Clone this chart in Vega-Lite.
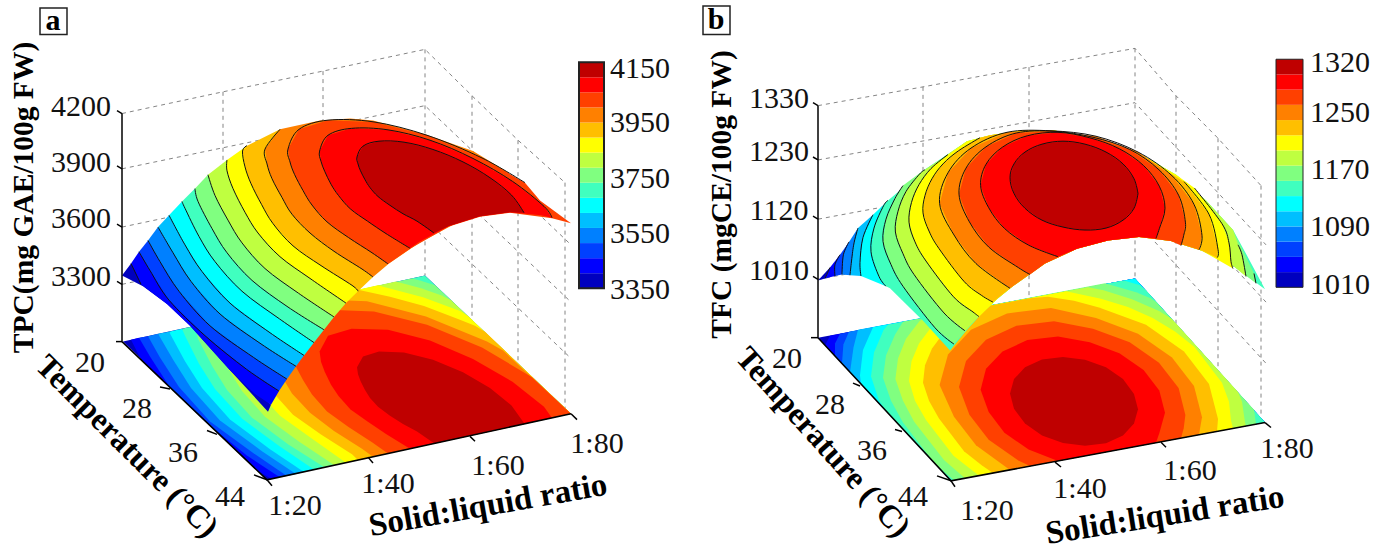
{"$schema":"https://vega.github.io/schema/vega-lite/v6.json","autosize":{"type":"fit","contains":"padding"},"width":1383,"height":551,"padding":0,"background":"white","config":{"view":{"stroke":null}},
"datasets":{
"g":[{"s":"a0","x":122,"y":115},{"s":"a0","x":223,"y":93},{"s":"a0","x":323,"y":72},{"s":"a0","x":425,"y":50},{"s":"a0","x":472,"y":97},{"s":"a0","x":518,"y":142},{"s":"a0","x":565,"y":185},
{"s":"a1","x":122,"y":171},{"s":"a1","x":425,"y":107},{"s":"a1","x":570,"y":247},{"s":"a2","x":122,"y":230},{"s":"a2","x":425,"y":165},{"s":"a2","x":570,"y":305},{"s":"a3","x":122,"y":288},{"s":"a3","x":425,"y":222},{"s":"a3","x":570,"y":362},
{"s":"a4","x":223,"y":93},{"s":"a4","x":223,"y":324},{"s":"a5","x":323,"y":72},{"s":"a5","x":323,"y":302},{"s":"a6","x":425,"y":50},{"s":"a6","x":425,"y":279},{"s":"a7","x":472,"y":97},{"s":"a7","x":472,"y":324},{"s":"a8","x":518,"y":142},{"s":"a8","x":518,"y":368},{"s":"a9","x":565,"y":185},{"s":"a9","x":565,"y":418},
{"s":"b0","x":818,"y":107},{"s":"b0","x":923,"y":88},{"s":"b0","x":1029,"y":68},{"s":"b0","x":1135,"y":49},{"s":"b0","x":1176,"y":97},{"s":"b0","x":1218,"y":140},{"s":"b0","x":1261,"y":188},
{"s":"b1","x":818,"y":162},{"s":"b1","x":1135,"y":104},{"s":"b1","x":1266,"y":248},{"s":"b2","x":818,"y":222},{"s":"b2","x":1135,"y":162},{"s":"b2","x":1266,"y":306},{"s":"b3","x":818,"y":283},{"s":"b3","x":1135,"y":223},{"s":"b3","x":1266,"y":368},
{"s":"b4","x":923,"y":88},{"s":"b4","x":923,"y":322},{"s":"b5","x":1029,"y":68},{"s":"b5","x":1029,"y":302},{"s":"b6","x":1135,"y":49},{"s":"b6","x":1135,"y":282},{"s":"b7","x":1176,"y":97},{"s":"b7","x":1176,"y":328},{"s":"b8","x":1218,"y":140},{"s":"b8","x":1218,"y":375},{"s":"b9","x":1261,"y":188},{"s":"b9","x":1261,"y":423}],
"p":[
{"s":"aF0","v":0,"x":123,"y":346},{"s":"aF0","v":0,"x":425,"y":279},{"s":"aF0","v":0,"x":571,"y":419},{"s":"aF0","v":0,"x":267,"y":486},
{"s":"aF1","v":1,"x":131,"y":344},{"s":"aF1","v":1,"x":141,"y":364},{"s":"aF1","v":1,"x":255,"y":475},{"s":"aF1","v":1,"x":271,"y":485},{"s":"aF1","v":1,"x":279,"y":483},{"s":"aF1","v":1,"x":139,"y":342},
{"s":"aF2","v":2,"x":139,"y":342},{"s":"aF2","v":2,"x":150,"y":361},{"s":"aF2","v":2,"x":169,"y":391},{"s":"aF2","v":2,"x":205,"y":427},{"s":"aF2","v":2,"x":246.5,"y":461},{"s":"aF2","v":2,"x":279,"y":483},{"s":"aF2","v":2,"x":287,"y":482},{"s":"aF2","v":2,"x":148,"y":340.5},
{"s":"aF3","v":3,"x":148,"y":340.5},{"s":"aF3","v":3,"x":160,"y":362},{"s":"aF3","v":3,"x":179,"y":392},{"s":"aF3","v":3,"x":210,"y":427},{"s":"aF3","v":3,"x":253.5,"y":459},{"s":"aF3","v":3,"x":287,"y":482},{"s":"aF3","v":3,"x":296,"y":480},{"s":"aF3","v":3,"x":158,"y":338},
{"s":"aF4","v":4,"x":158,"y":338},{"s":"aF4","v":4,"x":173,"y":364},{"s":"aF4","v":4,"x":191,"y":393},{"s":"aF4","v":4,"x":220,"y":426},{"s":"aF4","v":4,"x":262,"y":457},{"s":"aF4","v":4,"x":296,"y":480},{"s":"aF4","v":4,"x":304,"y":478},{"s":"aF4","v":4,"x":169,"y":336},
{"s":"aF5","v":5,"x":169,"y":336},{"s":"aF5","v":5,"x":185,"y":366},{"s":"aF5","v":5,"x":202,"y":393},{"s":"aF5","v":5,"x":230,"y":425},{"s":"aF5","v":5,"x":270,"y":455},{"s":"aF5","v":5,"x":304,"y":478},{"s":"aF5","v":5,"x":314,"y":475.6},{"s":"aF5","v":5,"x":182,"y":333},
{"s":"aF6","v":6,"x":182,"y":333},{"s":"aF6","v":6,"x":185,"y":340},{"s":"aF6","v":6,"x":199,"y":368.5},{"s":"aF6","v":6,"x":215,"y":394},{"s":"aF6","v":6,"x":242,"y":424},{"s":"aF6","v":6,"x":279.5,"y":452},{"s":"aF6","v":6,"x":314,"y":475.6},{"s":"aF6","v":6,"x":571,"y":419},{"s":"aF6","v":6,"x":425,"y":279},
{"s":"aF7","v":7,"x":195,"y":330},{"s":"aF7","v":7,"x":412,"y":282},{"s":"aF7","v":7,"x":420,"y":284},{"s":"aF7","v":7,"x":435,"y":289},{"s":"aF7","v":7,"x":571,"y":419},{"s":"aF7","v":7,"x":324,"y":473},{"s":"aF7","v":7,"x":288,"y":450},{"s":"aF7","v":7,"x":252,"y":423},{"s":"aF7","v":7,"x":227,"y":395},{"s":"aF7","v":7,"x":212,"y":370.5},{"s":"aF7","v":7,"x":198,"y":343},
{"s":"aF8","v":8,"x":208,"y":327},{"s":"aF8","v":8,"x":396,"y":285},{"s":"aF8","v":8,"x":421,"y":292},{"s":"aF8","v":8,"x":441,"y":299},{"s":"aF8","v":8,"x":451,"y":304},{"s":"aF8","v":8,"x":571,"y":419},{"s":"aF8","v":8,"x":334,"y":471},{"s":"aF8","v":8,"x":298.5,"y":447},{"s":"aF8","v":8,"x":265,"y":422},{"s":"aF8","v":8,"x":242,"y":396},{"s":"aF8","v":8,"x":228,"y":373},{"s":"aF8","v":8,"x":215,"y":348},
{"s":"aF9","v":9,"x":227,"y":323},{"s":"aF9","v":9,"x":378,"y":289},{"s":"aF9","v":9,"x":385,"y":291},{"s":"aF9","v":9,"x":423,"y":301},{"s":"aF9","v":9,"x":460,"y":315},{"s":"aF9","v":9,"x":468,"y":320},{"s":"aF9","v":9,"x":571,"y":419},{"s":"aF9","v":9,"x":346,"y":468.6},{"s":"aF9","v":9,"x":310,"y":443},{"s":"aF9","v":9,"x":280,"y":421},{"s":"aF9","v":9,"x":258,"y":397},{"s":"aF9","v":9,"x":245,"y":376},{"s":"aF9","v":9,"x":233,"y":352},{"s":"aF9","v":9,"x":227,"y":334},
{"s":"aF10","v":10,"x":247,"y":318.5},{"s":"aF10","v":10,"x":358,"y":293.5},{"s":"aF10","v":10,"x":390,"y":300.5},{"s":"aF10","v":10,"x":424,"y":310},{"s":"aF10","v":10,"x":458,"y":323},{"s":"aF10","v":10,"x":475,"y":330},{"s":"aF10","v":10,"x":485,"y":336},{"s":"aF10","v":10,"x":571,"y":419},{"s":"aF10","v":10,"x":358,"y":466},{"s":"aF10","v":10,"x":352,"y":460},{"s":"aF10","v":10,"x":321,"y":440},{"s":"aF10","v":10,"x":293,"y":420},{"s":"aF10","v":10,"x":273,"y":397.5},{"s":"aF10","v":10,"x":261.5,"y":378},{"s":"aF10","v":10,"x":251,"y":357},{"s":"aF10","v":10,"x":245,"y":340},{"s":"aF10","v":10,"x":242.5,"y":324},
{"s":"aF11","v":11,"x":280,"y":311},{"s":"aF11","v":11,"x":316,"y":303},{"s":"aF11","v":11,"x":367,"y":305},{"s":"aF11","v":11,"x":426,"y":320.5},{"s":"aF11","v":11,"x":487,"y":346},{"s":"aF11","v":11,"x":503,"y":355},{"s":"aF11","v":11,"x":571,"y":419},{"s":"aF11","v":11,"x":373,"y":462.6},{"s":"aF11","v":11,"x":362,"y":454.5},{"s":"aF11","v":11,"x":334,"y":436.5},{"s":"aF11","v":11,"x":310,"y":418},{"s":"aF11","v":11,"x":292,"y":398.6},{"s":"aF11","v":11,"x":282,"y":381.7},{"s":"aF11","v":11,"x":272,"y":362.7},{"s":"aF11","v":11,"x":267,"y":348},{"s":"aF11","v":11,"x":265,"y":333},
{"s":"aF12","v":12,"x":299,"y":323},{"s":"aF12","v":12,"x":328,"y":313.7},{"s":"aF12","v":12,"x":374,"y":315.5},{"s":"aF12","v":12,"x":427,"y":329},{"s":"aF12","v":12,"x":482,"y":352},{"s":"aF12","v":12,"x":532,"y":382},{"s":"aF12","v":12,"x":571,"y":419},{"s":"aF12","v":12,"x":388,"y":459.3},{"s":"aF12","v":12,"x":372,"y":448},{"s":"aF12","v":12,"x":348.5,"y":432.6},{"s":"aF12","v":12,"x":327,"y":416.7},{"s":"aF12","v":12,"x":312,"y":399.7},{"s":"aF12","v":12,"x":303,"y":385},{"s":"aF12","v":12,"x":294.5,"y":368.6},{"s":"aF12","v":12,"x":290,"y":356},{"s":"aF12","v":12,"x":288,"y":343},
{"s":"aF13","v":13,"x":319.6,"y":356},{"s":"aF13","v":13,"x":328,"y":340},{"s":"aF13","v":13,"x":351.5,"y":333},{"s":"aF13","v":13,"x":388,"y":334},{"s":"aF13","v":13,"x":430,"y":345},{"s":"aF13","v":13,"x":473,"y":363.5},{"s":"aF13","v":13,"x":512.5,"y":386.7},{"s":"aF13","v":13,"x":544,"y":412},{"s":"aF13","v":13,"x":552,"y":423.5},{"s":"aF13","v":13,"x":410,"y":454.5},{"s":"aF13","v":13,"x":386,"y":439.6},{"s":"aF13","v":13,"x":367.5,"y":427},{"s":"aF13","v":13,"x":350.5,"y":414.7},{"s":"aF13","v":13,"x":338.5,"y":401},{"s":"aF13","v":13,"x":331,"y":389.6},{"s":"aF13","v":13,"x":324.7,"y":376.5},{"s":"aF13","v":13,"x":321,"y":366.4},
{"s":"aF14","v":14,"x":357,"y":372},{"s":"aF14","v":14,"x":363,"y":361},{"s":"aF14","v":14,"x":379,"y":356},{"s":"aF14","v":14,"x":404,"y":357},{"s":"aF14","v":14,"x":433,"y":364.4},{"s":"aF14","v":14,"x":463,"y":377},{"s":"aF14","v":14,"x":490,"y":393},{"s":"aF14","v":14,"x":511.5,"y":410.6},{"s":"aF14","v":14,"x":524,"y":428.5},{"s":"aF14","v":14,"x":434,"y":449},{"s":"aF14","v":14,"x":417,"y":437},{"s":"aF14","v":14,"x":403,"y":429.5},{"s":"aF14","v":14,"x":390,"y":421},{"s":"aF14","v":14,"x":378,"y":412},{"s":"aF14","v":14,"x":370,"y":403},{"s":"aF14","v":14,"x":365,"y":395},{"s":"aF14","v":14,"x":360.5,"y":386},{"s":"aF14","v":14,"x":358,"y":379},
{"s":"aS0","v":0,"x":122,"y":279},{"s":"aS0","v":0,"x":131,"y":267},{"s":"aS0","v":0,"x":271,"y":410},{"s":"aS0","v":0,"x":268,"y":417},{"s":"aS0","v":0,"x":230,"y":375},{"s":"aS0","v":0,"x":190,"y":330},{"s":"aS0","v":0,"x":167,"y":308},{"s":"aS0","v":0,"x":143,"y":290},
{"s":"aS1","v":1,"c":1,"x":131,"y":267},{"s":"aS1","v":1,"c":1,"x":141,"y":288},{"s":"aS1","v":1,"x":167,"y":308},{"s":"aS1","v":1,"x":190,"y":330},{"s":"aS1","v":1,"x":230,"y":375},{"s":"aS1","v":1,"x":255,"y":399},{"s":"aS1","v":1,"x":271,"y":410},{"s":"aS1","v":1,"x":279,"y":396},{"s":"aS1","v":1,"x":139,"y":255},
{"s":"aS2","v":2,"c":1,"x":139,"y":255},{"s":"aS2","v":2,"c":1,"x":150,"y":274},{"s":"aS2","v":2,"c":1,"x":169,"y":304},{"s":"aS2","v":2,"c":1,"x":205,"y":340},{"s":"aS2","v":2,"c":1,"x":246.5,"y":374},{"s":"aS2","v":2,"c":1,"x":279,"y":396},{"s":"aS2","v":2,"x":287,"y":384},{"s":"aS2","v":2,"x":148,"y":243.5},
{"s":"aS3","v":3,"c":1,"x":148,"y":243.5},{"s":"aS3","v":3,"c":1,"x":160,"y":265},{"s":"aS3","v":3,"c":1,"x":179,"y":295},{"s":"aS3","v":3,"c":1,"x":210,"y":330},{"s":"aS3","v":3,"c":1,"x":253.5,"y":362},{"s":"aS3","v":3,"c":1,"x":287,"y":384},{"s":"aS3","v":3,"x":296,"y":371},{"s":"aS3","v":3,"x":158,"y":230},
{"s":"aS4","v":4,"c":1,"x":158,"y":230},{"s":"aS4","v":4,"c":1,"x":173,"y":256},{"s":"aS4","v":4,"c":1,"x":191,"y":285},{"s":"aS4","v":4,"c":1,"x":220,"y":318},{"s":"aS4","v":4,"c":1,"x":262,"y":349},{"s":"aS4","v":4,"c":1,"x":296,"y":371},{"s":"aS4","v":4,"x":304,"y":360},{"s":"aS4","v":4,"x":169,"y":218},
{"s":"aS5","v":5,"c":1,"x":169,"y":218},{"s":"aS5","v":5,"c":1,"x":185,"y":248},{"s":"aS5","v":5,"c":1,"x":202,"y":275},{"s":"aS5","v":5,"c":1,"x":230,"y":307},{"s":"aS5","v":5,"c":1,"x":270,"y":337},{"s":"aS5","v":5,"c":1,"x":304,"y":360},{"s":"aS5","v":5,"x":314,"y":347},{"s":"aS5","v":5,"x":182,"y":204},
{"s":"aS6","v":6,"c":1,"x":182,"y":204},{"s":"aS6","v":6,"c":1,"x":185,"y":211},{"s":"aS6","v":6,"c":1,"x":199,"y":239.5},{"s":"aS6","v":6,"c":1,"x":215,"y":265},{"s":"aS6","v":6,"c":1,"x":242,"y":295},{"s":"aS6","v":6,"c":1,"x":279.5,"y":323},{"s":"aS6","v":6,"c":1,"x":314,"y":347},{"s":"aS6","v":6,"x":324,"y":334},{"s":"aS6","v":6,"x":195,"y":191},
{"s":"aS7","v":7,"c":1,"x":195,"y":191},{"s":"aS7","v":7,"c":1,"x":198,"y":204},{"s":"aS7","v":7,"c":1,"x":212,"y":231.5},{"s":"aS7","v":7,"c":1,"x":227,"y":256},{"s":"aS7","v":7,"c":1,"x":252,"y":284},{"s":"aS7","v":7,"c":1,"x":288,"y":311},{"s":"aS7","v":7,"c":1,"x":324,"y":334},{"s":"aS7","v":7,"x":334,"y":321},{"s":"aS7","v":7,"x":208,"y":177},
{"s":"aS8","v":8,"c":1,"x":208,"y":177},{"s":"aS8","v":8,"c":1,"x":215,"y":198},{"s":"aS8","v":8,"c":1,"x":228,"y":223},{"s":"aS8","v":8,"c":1,"x":242,"y":246},{"s":"aS8","v":8,"c":1,"x":265,"y":272},{"s":"aS8","v":8,"c":1,"x":298.5,"y":297},{"s":"aS8","v":8,"c":1,"x":334,"y":321},{"s":"aS8","v":8,"x":346,"y":307},{"s":"aS8","v":8,"x":227,"y":162},
{"s":"aS9","v":9,"c":1,"x":227,"y":162},{"s":"aS9","v":9,"c":1,"x":227,"y":173},{"s":"aS9","v":9,"c":1,"x":233,"y":191},{"s":"aS9","v":9,"c":1,"x":245,"y":215},{"s":"aS9","v":9,"c":1,"x":258,"y":236},{"s":"aS9","v":9,"c":1,"x":280,"y":260},{"s":"aS9","v":9,"c":1,"x":310,"y":282},{"s":"aS9","v":9,"c":1,"x":346,"y":307},{"s":"aS9","v":9,"x":358,"y":295},{"s":"aS9","v":9,"x":247,"y":147.5},
{"s":"aS10","v":10,"c":1,"x":247,"y":147.5},{"s":"aS10","v":10,"c":1,"x":242.5,"y":153},{"s":"aS10","v":10,"c":1,"x":245,"y":169},{"s":"aS10","v":10,"c":1,"x":251,"y":186},{"s":"aS10","v":10,"c":1,"x":261.5,"y":207},{"s":"aS10","v":10,"c":1,"x":273,"y":226.5},{"s":"aS10","v":10,"c":1,"x":293,"y":249},{"s":"aS10","v":10,"c":1,"x":321,"y":269},{"s":"aS10","v":10,"c":1,"x":352,"y":289},{"s":"aS10","v":10,"c":1,"x":358,"y":295},{"s":"aS10","v":10,"x":373,"y":280.6},{"s":"aS10","v":10,"x":280,"y":131},
{"s":"aS11","v":11,"c":1,"x":280,"y":131},{"s":"aS11","v":11,"c":1,"x":265,"y":151},{"s":"aS11","v":11,"c":1,"x":267,"y":166},{"s":"aS11","v":11,"c":1,"x":272,"y":181},{"s":"aS11","v":11,"c":1,"x":282,"y":200},{"s":"aS11","v":11,"c":1,"x":292,"y":217},{"s":"aS11","v":11,"c":1,"x":310,"y":236},{"s":"aS11","v":11,"c":1,"x":334,"y":254.5},{"s":"aS11","v":11,"c":1,"x":362,"y":272.5},{"s":"aS11","v":11,"c":1,"x":373,"y":280.6},{"s":"aS11","v":11,"x":389,"y":267},{"s":"aS11","v":11,"x":419,"y":246},{"s":"aS11","v":11,"x":449,"y":230},{"s":"aS11","v":11,"x":525,"y":190},{"s":"aS11","v":11,"x":507,"y":174},{"s":"aS11","v":11,"x":473,"y":153},{"s":"aS11","v":11,"x":425,"y":136},{"s":"aS11","v":11,"x":373,"y":122},{"s":"aS11","v":11,"x":350,"y":120},{"s":"aS11","v":11,"x":320,"y":122},
{"s":"aS12","v":12,"c":1,"x":525,"y":185},{"s":"aS12","v":12,"c":1,"x":482,"y":160},{"s":"aS12","v":12,"c":1,"x":427,"y":137},{"s":"aS12","v":12,"c":1,"x":374,"y":123.5},{"s":"aS12","v":12,"c":1,"x":328,"y":121.7},{"s":"aS12","v":12,"c":1,"x":299,"y":131},{"s":"aS12","v":12,"c":1,"x":288,"y":151},{"s":"aS12","v":12,"c":1,"x":290,"y":164},{"s":"aS12","v":12,"c":1,"x":294.5,"y":176.6},{"s":"aS12","v":12,"c":1,"x":303,"y":193},{"s":"aS12","v":12,"c":1,"x":312,"y":207.7},{"s":"aS12","v":12,"c":1,"x":327,"y":224.7},{"s":"aS12","v":12,"c":1,"x":348.5,"y":240.6},{"s":"aS12","v":12,"c":1,"x":372,"y":256},{"s":"aS12","v":12,"c":1,"x":388,"y":267.3},{"s":"aS12","v":12,"x":410,"y":252},{"s":"aS12","v":12,"x":449,"y":229.5},{"s":"aS12","v":12,"x":480,"y":219.5},{"s":"aS12","v":12,"x":510,"y":215.5},{"s":"aS12","v":12,"x":552,"y":221},{"s":"aS12","v":12,"x":571,"y":226},{"s":"aS12","v":12,"x":540,"y":203},
{"s":"aS13","v":13,"c":1,"x":552,"y":220.5},{"s":"aS13","v":13,"c":1,"x":544,"y":209},{"s":"aS13","v":13,"c":1,"x":512.5,"y":183.7},{"s":"aS13","v":13,"c":1,"x":473,"y":160.5},{"s":"aS13","v":13,"c":1,"x":430,"y":142},{"s":"aS13","v":13,"c":1,"x":388,"y":131.5},{"s":"aS13","v":13,"c":1,"x":351.5,"y":130},{"s":"aS13","v":13,"c":1,"x":328,"y":137},{"s":"aS13","v":13,"c":1,"x":319.6,"y":153},{"s":"aS13","v":13,"c":1,"x":321,"y":163.4},{"s":"aS13","v":13,"c":1,"x":324.7,"y":173.5},{"s":"aS13","v":13,"c":1,"x":331,"y":186.6},{"s":"aS13","v":13,"c":1,"x":338.5,"y":198},{"s":"aS13","v":13,"c":1,"x":350.5,"y":211.7},{"s":"aS13","v":13,"c":1,"x":367.5,"y":224},{"s":"aS13","v":13,"c":1,"x":386,"y":236.6},{"s":"aS13","v":13,"c":1,"x":410,"y":251.5},{"s":"aS13","v":13,"x":419,"y":245},{"s":"aS13","v":13,"x":449,"y":229},{"s":"aS13","v":13,"x":480,"y":219},{"s":"aS13","v":13,"x":510,"y":215},{"s":"aS13","v":13,"x":541,"y":218},
{"s":"aS14","v":14,"c":1,"x":524,"y":215.5},{"s":"aS14","v":14,"c":1,"x":511.5,"y":197.6},{"s":"aS14","v":14,"c":1,"x":490,"y":180},{"s":"aS14","v":14,"c":1,"x":463,"y":164},{"s":"aS14","v":14,"c":1,"x":433,"y":151.4},{"s":"aS14","v":14,"c":1,"x":404,"y":144},{"s":"aS14","v":14,"c":1,"x":379,"y":143},{"s":"aS14","v":14,"c":1,"x":363,"y":148},{"s":"aS14","v":14,"c":1,"x":357,"y":159},{"s":"aS14","v":14,"c":1,"x":358,"y":166},{"s":"aS14","v":14,"c":1,"x":360.5,"y":173},{"s":"aS14","v":14,"c":1,"x":365,"y":182},{"s":"aS14","v":14,"c":1,"x":370,"y":190},{"s":"aS14","v":14,"c":1,"x":378,"y":199},{"s":"aS14","v":14,"c":1,"x":390,"y":208},{"s":"aS14","v":14,"c":1,"x":403,"y":216.5},{"s":"aS14","v":14,"c":1,"x":417,"y":224},{"s":"aS14","v":14,"c":1,"x":434,"y":236},{"s":"aS14","v":14,"x":449,"y":229},{"s":"aS14","v":14,"x":480,"y":219},{"s":"aS14","v":14,"x":510,"y":215},
{"s":"bF0","v":0,"x":818,"y":342},{"s":"bF0","v":0,"x":1135,"y":282},{"s":"bF0","v":0,"x":1265,"y":428},{"s":"bF0","v":0,"x":951,"y":487},
{"s":"bF1","v":1,"x":830,"y":340},{"s":"bF1","v":1,"x":1135,"y":282},{"s":"bF1","v":1,"x":1265,"y":428},{"s":"bF1","v":1,"x":951,"y":487},{"s":"bF1","v":1,"x":825,"y":350},
{"s":"bF2","v":2,"x":840,"y":338},{"s":"bF2","v":2,"x":1135,"y":282},{"s":"bF2","v":2,"x":1265,"y":428},{"s":"bF2","v":2,"x":951,"y":487},{"s":"bF2","v":2,"x":835,"y":360.5},{"s":"bF2","v":2,"x":835,"y":348},
{"s":"bF3","v":3,"x":849,"y":336},{"s":"bF3","v":3,"x":1135,"y":282},{"s":"bF3","v":3,"x":1265,"y":428},{"s":"bF3","v":3,"x":951,"y":487},{"s":"bF3","v":3,"x":842,"y":368},{"s":"bF3","v":3,"x":843.4,"y":349},
{"s":"bF4","v":4,"x":858,"y":334},{"s":"bF4","v":4,"x":1135,"y":282},{"s":"bF4","v":4,"x":1265,"y":428},{"s":"bF4","v":4,"x":951,"y":487},{"s":"bF4","v":4,"x":850,"y":377},{"s":"bF4","v":4,"x":853.5,"y":352},
{"s":"bF5","v":5,"x":873,"y":331.5},{"s":"bF5","v":5,"x":1135,"y":282},{"s":"bF5","v":5,"x":1265,"y":428},{"s":"bF5","v":5,"x":951,"y":487},{"s":"bF5","v":5,"x":861,"y":389},{"s":"bF5","v":5,"x":860,"y":380},{"s":"bF5","v":5,"x":863,"y":354.5},
{"s":"bF6","v":6,"x":888,"y":329},{"s":"bF6","v":6,"x":1124,"y":284},{"s":"bF6","v":6,"x":1140,"y":289},{"s":"bF6","v":6,"x":1146,"y":294},{"s":"bF6","v":6,"x":1265,"y":428},{"s":"bF6","v":6,"x":951,"y":487},{"s":"bF6","v":6,"x":886,"y":416},{"s":"bF6","v":6,"x":879,"y":406},{"s":"bF6","v":6,"x":871,"y":381},{"s":"bF6","v":6,"x":874,"y":357},{"s":"bF6","v":6,"x":883.5,"y":334.5},
{"s":"bF7","v":7,"x":903,"y":326},{"s":"bF7","v":7,"x":1105,"y":287},{"s":"bF7","v":7,"x":1136,"y":296},{"s":"bF7","v":7,"x":1150.7,"y":302},{"s":"bF7","v":7,"x":1156,"y":306},{"s":"bF7","v":7,"x":1254,"y":415},{"s":"bF7","v":7,"x":1256,"y":429.5},{"s":"bF7","v":7,"x":954,"y":486.5},{"s":"bF7","v":7,"x":935,"y":470},{"s":"bF7","v":7,"x":903,"y":428},{"s":"bF7","v":7,"x":891,"y":406},{"s":"bF7","v":7,"x":883,"y":382.5},{"s":"bF7","v":7,"x":886,"y":360},{"s":"bF7","v":7,"x":895,"y":339},
{"s":"bF8","v":8,"x":925,"y":322},{"s":"bF8","v":8,"x":1088,"y":291},{"s":"bF8","v":8,"x":1103.5,"y":294},{"s":"bF8","v":8,"x":1132,"y":303},{"s":"bF8","v":8,"x":1159,"y":315},{"s":"bF8","v":8,"x":1172,"y":323},{"s":"bF8","v":8,"x":1238,"y":397},{"s":"bF8","v":8,"x":1242,"y":407},{"s":"bF8","v":8,"x":1245,"y":428},{"s":"bF8","v":8,"x":1246,"y":431.5},{"s":"bF8","v":8,"x":965,"y":484.4},{"s":"bF8","v":8,"x":944,"y":466},{"s":"bF8","v":8,"x":914,"y":427},{"s":"bF8","v":8,"x":903,"y":406},{"s":"bF8","v":8,"x":895.4,"y":384},{"s":"bF8","v":8,"x":898,"y":363},{"s":"bF8","v":8,"x":906,"y":343},{"s":"bF8","v":8,"x":919.4,"y":325.5},
{"s":"bF9","v":9,"x":948,"y":317.5},{"s":"bF9","v":9,"x":1066,"y":295},{"s":"bF9","v":9,"x":1101,"y":302.7},{"s":"bF9","v":9,"x":1128,"y":311},{"s":"bF9","v":9,"x":1152.7,"y":322},{"s":"bF9","v":9,"x":1175,"y":335.7},{"s":"bF9","v":9,"x":1194.5,"y":351.5},{"s":"bF9","v":9,"x":1222,"y":387.6},{"s":"bF9","v":9,"x":1229,"y":407},{"s":"bF9","v":9,"x":1231,"y":426},{"s":"bF9","v":9,"x":1233,"y":434},{"s":"bF9","v":9,"x":979,"y":481.7},{"s":"bF9","v":9,"x":973,"y":477},{"s":"bF9","v":9,"x":953.5,"y":461.6},{"s":"bF9","v":9,"x":926,"y":425.4},{"s":"bF9","v":9,"x":915,"y":406},{"s":"bF9","v":9,"x":909,"y":386},{"s":"bF9","v":9,"x":911.5,"y":366},{"s":"bF9","v":9,"x":919,"y":348},{"s":"bF9","v":9,"x":931,"y":331.7},
{"s":"bF10","v":10,"x":980,"y":311.5},{"s":"bF10","v":10,"x":1030,"y":302},{"s":"bF10","v":10,"x":1048,"y":300.5},{"s":"bF10","v":10,"x":1074,"y":304.5},{"s":"bF10","v":10,"x":1099,"y":311.5},{"s":"bF10","v":10,"x":1146,"y":329},{"s":"bF10","v":10,"x":1184,"y":356},{"s":"bF10","v":10,"x":1209,"y":389},{"s":"bF10","v":10,"x":1218,"y":424.5},{"s":"bF10","v":10,"x":1217,"y":437},{"s":"bF10","v":10,"x":993,"y":479},{"s":"bF10","v":10,"x":981.7,"y":471.3},{"s":"bF10","v":10,"x":964,"y":457},{"s":"bF10","v":10,"x":939,"y":423.8},{"s":"bF10","v":10,"x":929,"y":406},{"s":"bF10","v":10,"x":923,"y":387.6},{"s":"bF10","v":10,"x":925,"y":370},{"s":"bF10","v":10,"x":932,"y":353},{"s":"bF10","v":10,"x":943,"y":338},{"s":"bF10","v":10,"x":958.4,"y":324.8},
{"s":"bF11","v":11,"x":1007,"y":317.5},{"s":"bF11","v":11,"x":1051,"y":312},{"s":"bF11","v":11,"x":1096,"y":322},{"s":"bF11","v":11,"x":1138,"y":338},{"s":"bF11","v":11,"x":1172,"y":362},{"s":"bF11","v":11,"x":1194,"y":391},{"s":"bF11","v":11,"x":1202,"y":422.5},{"s":"bF11","v":11,"x":1199,"y":440},{"s":"bF11","v":11,"x":1010,"y":476},{"s":"bF11","v":11,"x":976,"y":451},{"s":"bF11","v":11,"x":954,"y":422},{"s":"bF11","v":11,"x":939.6,"y":390},{"s":"bF11","v":11,"x":948,"y":359},{"s":"bF11","v":11,"x":971,"y":334},
{"s":"bF12","v":12,"x":1185.4,"y":420.4},{"s":"bF12","v":12,"x":1178.6,"y":393},{"s":"bF12","v":12,"x":1159,"y":367.5},{"s":"bF12","v":12,"x":1129.7,"y":346.6},{"s":"bF12","v":12,"x":1093,"y":333},{"s":"bF12","v":12,"x":1054,"y":325.5},{"s":"bF12","v":12,"x":1016.4,"y":330},{"s":"bF12","v":12,"x":986,"y":344},{"s":"bF12","v":12,"x":966,"y":365.6},{"s":"bF12","v":12,"x":959,"y":392},{"s":"bF12","v":12,"x":969.4,"y":420},{"s":"bF12","v":12,"x":988.7,"y":445.5},{"s":"bF12","v":12,"x":1018.3,"y":466.4},{"s":"bF12","v":12,"x":1030,"y":472},{"s":"bF12","v":12,"x":1181,"y":444},{"s":"bF12","v":12,"x":1183.7,"y":433.7},
{"s":"bF13","v":13,"x":1165,"y":418},{"s":"bF13","v":13,"x":1159.3,"y":395.6},{"s":"bF13","v":13,"x":1143.6,"y":374.7},{"s":"bF13","v":13,"x":1119.4,"y":357.7},{"s":"bF13","v":13,"x":1089.8,"y":346.6},{"s":"bF13","v":13,"x":1058,"y":340.8},{"s":"bF13","v":13,"x":1027.3,"y":344.5},{"s":"bF13","v":13,"x":1002.5,"y":356},{"s":"bF13","v":13,"x":986,"y":373.4},{"s":"bF13","v":13,"x":980.6,"y":394.8},{"s":"bF13","v":13,"x":988.7,"y":417.4},{"s":"bF13","v":13,"x":1004.4,"y":438.3},{"s":"bF13","v":13,"x":1028.6,"y":455.3},{"s":"bF13","v":13,"x":1058,"y":466.9},{"s":"bF13","v":13,"x":1156,"y":448.5},{"s":"bF13","v":13,"x":1159.3,"y":438.7},
{"s":"bF14","v":14,"x":1138,"y":414.5},{"s":"bF14","v":14,"x":1134,"y":429},{"s":"bF14","v":14,"x":1123,"y":441},{"s":"bF14","v":14,"x":1106,"y":449},{"s":"bF14","v":14,"x":1085,"y":451.5},{"s":"bF14","v":14,"x":1063,"y":448.7},{"s":"bF14","v":14,"x":1042,"y":441},{"s":"bF14","v":14,"x":1025,"y":429},{"s":"bF14","v":14,"x":1014,"y":414},{"s":"bF14","v":14,"x":1010,"y":398.5},{"s":"bF14","v":14,"x":1014,"y":384},{"s":"bF14","v":14,"x":1025,"y":372},{"s":"bF14","v":14,"x":1042,"y":364},{"s":"bF14","v":14,"x":1063,"y":361.5},{"s":"bF14","v":14,"x":1085,"y":364.3},{"s":"bF14","v":14,"x":1106,"y":372},{"s":"bF14","v":14,"x":1123,"y":384},{"s":"bF14","v":14,"x":1134,"y":399},
{"s":"bS0","v":0,"x":818,"y":284},{"s":"bS0","v":0,"x":830,"y":271},{"s":"bS0","v":0,"x":825,"y":282},
{"s":"bS1","v":1,"c":1,"x":830,"y":271},{"s":"bS1","v":1,"c":1,"x":825,"y":282},{"s":"bS1","v":1,"x":835,"y":279.5},{"s":"bS1","v":1,"x":840,"y":258},
{"s":"bS2","v":2,"c":1,"x":840,"y":258},{"s":"bS2","v":2,"c":1,"x":835,"y":268},{"s":"bS2","v":2,"c":1,"x":835,"y":279.5},{"s":"bS2","v":2,"x":842,"y":278},{"s":"bS2","v":2,"x":849,"y":245},
{"s":"bS3","v":3,"c":1,"x":849,"y":245},{"s":"bS3","v":3,"c":1,"x":843.4,"y":258},{"s":"bS3","v":3,"c":1,"x":842,"y":278},{"s":"bS3","v":3,"x":850,"y":278.7},{"s":"bS3","v":3,"x":858,"y":231},
{"s":"bS4","v":4,"c":1,"x":858,"y":231},{"s":"bS4","v":4,"c":1,"x":853.5,"y":249},{"s":"bS4","v":4,"c":1,"x":850,"y":278.7},{"s":"bS4","v":4,"x":861,"y":279.6},{"s":"bS4","v":4,"x":873,"y":217.5},
{"s":"bS5","v":5,"c":1,"x":873,"y":217.5},{"s":"bS5","v":5,"c":1,"x":863,"y":240.5},{"s":"bS5","v":5,"c":1,"x":860,"y":266},{"s":"bS5","v":5,"c":1,"x":861,"y":279.6},{"s":"bS5","v":5,"x":886,"y":290},{"s":"bS5","v":5,"x":888,"y":203},
{"s":"bS6","v":6,"c":1,"x":888,"y":203},{"s":"bS6","v":6,"c":1,"x":883.5,"y":208.5},{"s":"bS6","v":6,"c":1,"x":874,"y":231},{"s":"bS6","v":6,"c":1,"x":871,"y":255},{"s":"bS6","v":6,"c":1,"x":879,"y":280},{"s":"bS6","v":6,"c":1,"x":886,"y":290},{"s":"bS6","v":6,"x":890,"y":292},{"s":"bS6","v":6,"x":910,"y":312},{"s":"bS6","v":6,"x":923,"y":325},{"s":"bS6","v":6,"x":950,"y":355},{"s":"bS6","v":6,"x":967,"y":334},{"s":"bS6","v":6,"x":982,"y":317},{"s":"bS6","v":6,"x":998,"y":302},{"s":"bS6","v":6,"x":1014,"y":289},{"s":"bS6","v":6,"x":1045,"y":267},{"s":"bS6","v":6,"x":1077,"y":252},{"s":"bS6","v":6,"x":1108,"y":243.5},{"s":"bS6","v":6,"x":1139,"y":240},{"s":"bS6","v":6,"x":1171,"y":244},{"s":"bS6","v":6,"x":1202,"y":254},{"s":"bS6","v":6,"x":1234,"y":270},{"s":"bS6","v":6,"x":1265,"y":293},{"s":"bS6","v":6,"x":1246,"y":257},{"s":"bS6","v":6,"x":1233,"y":233},{"s":"bS6","v":6,"x":1206,"y":203},{"s":"bS6","v":6,"x":1176,"y":177},{"s":"bS6","v":6,"x":1135,"y":153},{"s":"bS6","v":6,"x":1083,"y":137},{"s":"bS6","v":6,"x":1023,"y":132},{"s":"bS6","v":6,"x":967,"y":143},{"s":"bS6","v":6,"x":923,"y":173},
{"s":"bS7","v":7,"c":2,"x":1256,"y":287},{"s":"bS7","v":7,"c":2,"x":1254,"y":277},{"s":"bS7","v":7,"x":1233,"y":233},{"s":"bS7","v":7,"x":1206,"y":203},{"s":"bS7","v":7,"x":1176,"y":177},{"s":"bS7","v":7,"x":1135,"y":153},{"s":"bS7","v":7,"x":1083,"y":137},{"s":"bS7","v":7,"x":1053,"y":132},{"s":"bS7","v":7,"x":1023,"y":132},{"s":"bS7","v":7,"x":990,"y":137},{"s":"bS7","v":7,"x":967,"y":143},{"s":"bS7","v":7,"x":943,"y":160},{"s":"bS7","v":7,"x":923,"y":173},{"s":"bS7","v":7,"c":1,"x":903,"y":188},{"s":"bS7","v":7,"c":1,"x":895,"y":201},{"s":"bS7","v":7,"c":1,"x":886,"y":222},{"s":"bS7","v":7,"c":1,"x":883,"y":244.5},{"s":"bS7","v":7,"c":1,"x":891,"y":268},{"s":"bS7","v":7,"c":1,"x":903,"y":290},{"s":"bS7","v":7,"c":1,"x":935,"y":332},{"s":"bS7","v":7,"c":1,"x":954,"y":348.5},{"s":"bS7","v":7,"x":967,"y":334},{"s":"bS7","v":7,"x":982,"y":317},{"s":"bS7","v":7,"x":998,"y":302},{"s":"bS7","v":7,"x":1014,"y":289},{"s":"bS7","v":7,"x":1045,"y":267},{"s":"bS7","v":7,"x":1077,"y":252},{"s":"bS7","v":7,"x":1108,"y":243.5},{"s":"bS7","v":7,"x":1139,"y":240},{"s":"bS7","v":7,"x":1171,"y":244},{"s":"bS7","v":7,"x":1202,"y":254},{"s":"bS7","v":7,"x":1234,"y":270},
{"s":"bS8","v":8,"c":2,"x":1246,"y":280},{"s":"bS8","v":8,"c":2,"x":1242,"y":258},{"s":"bS8","v":8,"c":2,"x":1238,"y":248},{"s":"bS8","v":8,"x":1233,"y":233},{"s":"bS8","v":8,"x":1206,"y":203},{"s":"bS8","v":8,"x":1176,"y":177},{"s":"bS8","v":8,"x":1135,"y":153},{"s":"bS8","v":8,"x":1083,"y":137},{"s":"bS8","v":8,"x":1053,"y":132},{"s":"bS8","v":8,"x":1023,"y":132},{"s":"bS8","v":8,"x":990,"y":137},{"s":"bS8","v":8,"x":967,"y":143},{"s":"bS8","v":8,"x":943,"y":160},{"s":"bS8","v":8,"c":1,"x":925,"y":172},{"s":"bS8","v":8,"c":1,"x":919.4,"y":176.5},{"s":"bS8","v":8,"c":1,"x":906,"y":194},{"s":"bS8","v":8,"c":1,"x":898,"y":214},{"s":"bS8","v":8,"c":1,"x":895.4,"y":235},{"s":"bS8","v":8,"c":1,"x":903,"y":257},{"s":"bS8","v":8,"c":1,"x":914,"y":278},{"s":"bS8","v":8,"c":1,"x":944,"y":317},{"s":"bS8","v":8,"c":1,"x":965,"y":335},{"s":"bS8","v":8,"x":982,"y":317},{"s":"bS8","v":8,"x":998,"y":302},{"s":"bS8","v":8,"x":1014,"y":289},{"s":"bS8","v":8,"x":1045,"y":267},{"s":"bS8","v":8,"x":1077,"y":252},{"s":"bS8","v":8,"x":1108,"y":243.5},{"s":"bS8","v":8,"x":1139,"y":240},{"s":"bS8","v":8,"x":1171,"y":244},{"s":"bS8","v":8,"x":1202,"y":254},{"s":"bS8","v":8,"x":1234,"y":270},
{"s":"bS9","v":9,"c":2,"x":1233,"y":272},{"s":"bS9","v":9,"c":2,"x":1231,"y":265},{"s":"bS9","v":9,"c":2,"x":1229,"y":246},{"s":"bS9","v":9,"c":2,"x":1222,"y":226.6},{"s":"bS9","v":9,"c":2,"x":1194.5,"y":190.5},{"s":"bS9","v":9,"x":1176,"y":177},{"s":"bS9","v":9,"x":1135,"y":153},{"s":"bS9","v":9,"x":1083,"y":137},{"s":"bS9","v":9,"x":1053,"y":132},{"s":"bS9","v":9,"x":1023,"y":132},{"s":"bS9","v":9,"x":990,"y":137},{"s":"bS9","v":9,"x":967,"y":143},{"s":"bS9","v":9,"c":1,"x":948,"y":156.5},{"s":"bS9","v":9,"c":1,"x":931,"y":170.7},{"s":"bS9","v":9,"c":1,"x":919,"y":187},{"s":"bS9","v":9,"c":1,"x":911.5,"y":205},{"s":"bS9","v":9,"c":1,"x":909,"y":225},{"s":"bS9","v":9,"c":1,"x":915,"y":245},{"s":"bS9","v":9,"c":1,"x":926,"y":264.4},{"s":"bS9","v":9,"c":1,"x":953.5,"y":300.6},{"s":"bS9","v":9,"c":1,"x":973,"y":316},{"s":"bS9","v":9,"c":1,"x":979,"y":320.7},{"s":"bS9","v":9,"x":998,"y":302},{"s":"bS9","v":9,"x":1014,"y":289},{"s":"bS9","v":9,"x":1045,"y":267},{"s":"bS9","v":9,"x":1077,"y":252},{"s":"bS9","v":9,"x":1108,"y":243.5},{"s":"bS9","v":9,"x":1139,"y":240},{"s":"bS9","v":9,"x":1171,"y":244},{"s":"bS9","v":9,"x":1202,"y":254},
{"s":"bS10","v":10,"c":2,"x":1217,"y":261},{"s":"bS10","v":10,"c":2,"x":1218,"y":252.5},{"s":"bS10","v":10,"c":2,"x":1209,"y":217},{"s":"bS10","v":10,"c":2,"x":1184,"y":184},{"s":"bS10","v":10,"x":1135,"y":153},{"s":"bS10","v":10,"x":1083,"y":137},{"s":"bS10","v":10,"x":1053,"y":132},{"s":"bS10","v":10,"x":1023,"y":132},{"s":"bS10","v":10,"x":990,"y":137},{"s":"bS10","v":10,"c":1,"x":980,"y":139.5},{"s":"bS10","v":10,"c":1,"x":958.4,"y":152.8},{"s":"bS10","v":10,"c":1,"x":943,"y":166},{"s":"bS10","v":10,"c":1,"x":932,"y":181},{"s":"bS10","v":10,"c":1,"x":925,"y":198},{"s":"bS10","v":10,"c":1,"x":923,"y":215.6},{"s":"bS10","v":10,"c":1,"x":929,"y":234},{"s":"bS10","v":10,"c":1,"x":939,"y":251.8},{"s":"bS10","v":10,"c":1,"x":964,"y":285},{"s":"bS10","v":10,"c":1,"x":981.7,"y":299.3},{"s":"bS10","v":10,"c":1,"x":993,"y":306},{"s":"bS10","v":10,"x":1014,"y":289},{"s":"bS10","v":10,"x":1045,"y":267},{"s":"bS10","v":10,"x":1077,"y":252},{"s":"bS10","v":10,"x":1108,"y":243.5},{"s":"bS10","v":10,"x":1139,"y":240},{"s":"bS10","v":10,"x":1171,"y":244},{"s":"bS10","v":10,"x":1202,"y":254},
{"s":"bS11","v":11,"c":1,"x":1199,"y":253},{"s":"bS11","v":11,"c":1,"x":1202,"y":238.5},{"s":"bS11","v":11,"c":1,"x":1194,"y":207},{"s":"bS11","v":11,"c":1,"x":1172,"y":178},{"s":"bS11","v":11,"c":1,"x":1138,"y":154},{"s":"bS11","v":11,"c":1,"x":1096,"y":138},{"s":"bS11","v":11,"c":1,"x":1051,"y":132.5},{"s":"bS11","v":11,"c":1,"x":1007,"y":134},{"s":"bS11","v":11,"c":1,"x":971,"y":150},{"s":"bS11","v":11,"c":1,"x":948,"y":175},{"s":"bS11","v":11,"c":1,"x":939.6,"y":206},{"s":"bS11","v":11,"c":1,"x":954,"y":238},{"s":"bS11","v":11,"c":1,"x":976,"y":267},{"s":"bS11","v":11,"c":1,"x":1010,"y":292},{"s":"bS11","v":11,"x":1045,"y":267},{"s":"bS11","v":11,"x":1077,"y":252},{"s":"bS11","v":11,"x":1108,"y":243.5},{"s":"bS11","v":11,"x":1139,"y":240},{"s":"bS11","v":11,"x":1171,"y":244},
{"s":"bS12","v":12,"c":1,"x":1181,"y":248.7},{"s":"bS12","v":12,"c":1,"x":1183.7,"y":238.4},{"s":"bS12","v":12,"c":1,"x":1185.4,"y":225},{"s":"bS12","v":12,"c":1,"x":1178.6,"y":197.7},{"s":"bS12","v":12,"c":1,"x":1159,"y":172},{"s":"bS12","v":12,"c":1,"x":1129.7,"y":151.3},{"s":"bS12","v":12,"c":1,"x":1093,"y":139},{"s":"bS12","v":12,"c":1,"x":1054,"y":133},{"s":"bS12","v":12,"c":1,"x":1016.4,"y":134.7},{"s":"bS12","v":12,"c":1,"x":986,"y":148.7},{"s":"bS12","v":12,"c":1,"x":966,"y":170.3},{"s":"bS12","v":12,"c":1,"x":959,"y":196.7},{"s":"bS12","v":12,"c":1,"x":969.4,"y":224.7},{"s":"bS12","v":12,"c":1,"x":988.7,"y":250.2},{"s":"bS12","v":12,"c":1,"x":1018.3,"y":271},{"s":"bS12","v":12,"c":1,"x":1030,"y":278},{"s":"bS12","v":12,"x":1045,"y":267},{"s":"bS12","v":12,"x":1077,"y":252},{"s":"bS12","v":12,"x":1108,"y":243.5},{"s":"bS12","v":12,"x":1139,"y":240},{"s":"bS12","v":12,"x":1171,"y":244},
{"s":"bS13","v":13,"c":1,"x":1156,"y":241.5},{"s":"bS13","v":13,"c":1,"x":1159.3,"y":231.7},{"s":"bS13","v":13,"c":1,"x":1165,"y":211},{"s":"bS13","v":13,"c":1,"x":1159.3,"y":188.6},{"s":"bS13","v":13,"c":1,"x":1143.6,"y":167.7},{"s":"bS13","v":13,"c":1,"x":1119.4,"y":150.7},{"s":"bS13","v":13,"c":1,"x":1089.8,"y":139.6},{"s":"bS13","v":13,"c":1,"x":1058,"y":134},{"s":"bS13","v":13,"c":1,"x":1027.3,"y":137.5},{"s":"bS13","v":13,"c":1,"x":1002.5,"y":149},{"s":"bS13","v":13,"c":1,"x":986,"y":166.4},{"s":"bS13","v":13,"c":1,"x":980.6,"y":187.8},{"s":"bS13","v":13,"c":1,"x":988.7,"y":210.4},{"s":"bS13","v":13,"c":1,"x":1004.4,"y":231.3},{"s":"bS13","v":13,"c":1,"x":1028.6,"y":248.3},{"s":"bS13","v":13,"c":1,"x":1058,"y":260},{"s":"bS13","v":13,"x":1077,"y":252},{"s":"bS13","v":13,"x":1108,"y":243.5},{"s":"bS13","v":13,"x":1139,"y":240},
{"s":"bS14","v":14,"c":1,"x":1138,"y":196},{"s":"bS14","v":14,"c":1,"x":1134,"y":211},{"s":"bS14","v":14,"c":1,"x":1123,"y":223},{"s":"bS14","v":14,"c":1,"x":1106,"y":231},{"s":"bS14","v":14,"c":1,"x":1085,"y":233},{"s":"bS14","v":14,"c":1,"x":1063,"y":230},{"s":"bS14","v":14,"c":1,"x":1042,"y":223},{"s":"bS14","v":14,"c":1,"x":1025,"y":211},{"s":"bS14","v":14,"c":1,"x":1014,"y":196},{"s":"bS14","v":14,"c":1,"x":1010,"y":180},{"s":"bS14","v":14,"c":1,"x":1014,"y":166},{"s":"bS14","v":14,"c":1,"x":1025,"y":154},{"s":"bS14","v":14,"c":1,"x":1042,"y":146},{"s":"bS14","v":14,"c":1,"x":1063,"y":143},{"s":"bS14","v":14,"c":1,"x":1085,"y":146},{"s":"bS14","v":14,"c":1,"x":1106,"y":154},{"s":"bS14","v":14,"c":1,"x":1123,"y":166},{"s":"bS14","v":14,"c":1,"x":1134,"y":181},{"s":"bS14","v":14,"c":1,"x":1138,"y":196}],
"ax":[{"s":"a1","x":122,"y":115},{"s":"a1","x":122,"y":346},{"s":"a2","x":122,"y":346},{"s":"a2","x":267,"y":486},{"s":"a2","x":571,"y":419},
{"s":"a3","x":117,"y":112},{"s":"a3","x":122,"y":115},{"s":"a4","x":117,"y":168},{"s":"a4","x":122,"y":171},{"s":"a5","x":117,"y":227},{"s":"a5","x":122,"y":230},{"s":"a6","x":117,"y":285},{"s":"a6","x":122,"y":288},{"s":"a7","x":116,"y":346},{"s":"a7","x":122,"y":346},{"s":"a8","x":160,"y":392},{"s":"a8","x":170,"y":394},{"s":"a9","x":207,"y":436},{"s":"a9","x":217,"y":440},{"s":"a10","x":254,"y":481},{"s":"a10","x":267,"y":486},{"s":"a11","x":267,"y":486},{"s":"a11","x":272,"y":492},{"s":"a12","x":368,"y":463},{"s":"a12","x":373,"y":469},{"s":"a13","x":470,"y":442},{"s":"a13","x":475,"y":447},{"s":"a14","x":571,"y":419},{"s":"a14","x":577,"y":425},
{"s":"b1","x":818,"y":107},{"s":"b1","x":818,"y":342},{"s":"b2","x":818,"y":342},{"s":"b2","x":951,"y":487},{"s":"b2","x":1265,"y":428},
{"s":"b3","x":813,"y":104},{"s":"b3","x":818,"y":107},{"s":"b4","x":813,"y":159},{"s":"b4","x":818,"y":162},{"s":"b5","x":813,"y":219},{"s":"b5","x":818,"y":222},{"s":"b6","x":813,"y":280},{"s":"b6","x":818,"y":283},{"s":"b7","x":811,"y":342},{"s":"b7","x":818,"y":342},{"s":"b8","x":853,"y":388},{"s":"b8","x":860,"y":391},{"s":"b9","x":895,"y":435},{"s":"b9","x":902,"y":437},{"s":"b10","x":937,"y":482},{"s":"b10","x":951,"y":487},{"s":"b11","x":951,"y":487},{"s":"b11","x":955,"y":493},{"s":"b12","x":1055,"y":468},{"s":"b12","x":1061,"y":473},{"s":"b13","x":1161,"y":448},{"s":"b13","x":1166,"y":453},{"s":"b14","x":1265,"y":428},{"s":"b14","x":1271,"y":433}],
"leg":[{"v":0,"x":579,"x2":604,"y":292,"y2":276.7},{"v":1,"x":579,"x2":604,"y":276.7,"y2":261.5},{"v":2,"x":579,"x2":604,"y":261.5,"y2":246.2},{"v":3,"x":579,"x2":604,"y":246.2,"y2":230.9},{"v":4,"x":579,"x2":604,"y":230.9,"y2":215.7},{"v":5,"x":579,"x2":604,"y":215.7,"y2":200.4},{"v":6,"x":579,"x2":604,"y":200.4,"y2":185.1},{"v":7,"x":579,"x2":604,"y":185.1,"y2":169.9},{"v":8,"x":579,"x2":604,"y":169.9,"y2":154.6},{"v":9,"x":579,"x2":604,"y":154.6,"y2":139.3},{"v":10,"x":579,"x2":604,"y":139.3,"y2":124.1},{"v":11,"x":579,"x2":604,"y":124.1,"y2":108.8},{"v":12,"x":579,"x2":604,"y":108.8,"y2":93.5},{"v":13,"x":579,"x2":604,"y":93.5,"y2":78.3},{"v":14,"x":579,"x2":604,"y":78.3,"y2":63},
{"v":0,"x":1276,"x2":1303,"y":291,"y2":275.6},{"v":1,"x":1276,"x2":1303,"y":275.6,"y2":260.2},{"v":2,"x":1276,"x2":1303,"y":260.2,"y2":244.8},{"v":3,"x":1276,"x2":1303,"y":244.8,"y2":229.4},{"v":4,"x":1276,"x2":1303,"y":229.4,"y2":214},{"v":5,"x":1276,"x2":1303,"y":214,"y2":198.6},{"v":6,"x":1276,"x2":1303,"y":198.6,"y2":183.2},{"v":7,"x":1276,"x2":1303,"y":183.2,"y2":167.8},{"v":8,"x":1276,"x2":1303,"y":167.8,"y2":152.4},{"v":9,"x":1276,"x2":1303,"y":152.4,"y2":137},{"v":10,"x":1276,"x2":1303,"y":137,"y2":121.6},{"v":11,"x":1276,"x2":1303,"y":121.6,"y2":106.2},{"v":12,"x":1276,"x2":1303,"y":106.2,"y2":90.8},{"v":13,"x":1276,"x2":1303,"y":90.8,"y2":75.4},{"v":14,"x":1276,"x2":1303,"y":75.4,"y2":60}],
"box":[{"x":579,"x2":604,"y":63,"y2":292,"w":2},{"x":1276,"x2":1303,"y":60,"y2":291,"w":1},{"x":40,"x2":67,"y":8,"y2":35,"w":1.5},{"x":703,"x2":730,"y":6,"y2":35,"w":1.5}],
"t":[{"t":"4200","x":81,"y":106},{"t":"3900","x":81,"y":163},{"t":"3600","x":81,"y":220},{"t":"3300","x":81,"y":279},{"t":"20","x":90,"y":366},{"t":"28","x":137,"y":412},{"t":"36","x":183,"y":457},{"t":"44","x":230,"y":501},{"t":"1:20","x":295,"y":510},{"t":"1:40","x":388,"y":488},{"t":"1:60","x":498,"y":470},{"t":"1:80","x":597,"y":448},{"t":"4150","x":640,"y":68},{"t":"3950","x":640,"y":123},{"t":"3750","x":640,"y":179},{"t":"3550","x":640,"y":235},{"t":"3350","x":640,"y":292},
{"t":"1330","x":779,"y":98},{"t":"1230","x":779,"y":152},{"t":"1120","x":779,"y":212},{"t":"1010","x":779,"y":272},{"t":"20","x":787,"y":362},{"t":"28","x":830,"y":408},{"t":"36","x":872,"y":455},{"t":"44","x":913,"y":501},{"t":"1:20","x":987,"y":516},{"t":"1:40","x":1080,"y":493},{"t":"1:60","x":1190,"y":475},{"t":"1:80","x":1287,"y":453},{"t":"1320","x":1340,"y":62},{"t":"1250","x":1340,"y":112},{"t":"1170","x":1340,"y":170},{"t":"1090","x":1340,"y":228},{"t":"1010","x":1340,"y":287}],
"tb":[{"t":"a","x":53,"y":21,"a":0,"z":30},{"t":"b","x":716,"y":20,"a":0,"z":30},{"t":"TPC(mg GAE/100g FW)","x":24,"y":200,"a":-90,"z":29.5},{"t":"TFC (mgCE/100g FW)","x":722,"y":197,"a":-90,"z":29.5},{"t":"Temperature (°C)","x":127,"y":452,"a":45,"z":32},{"t":"Temperature (°C)","x":823,"y":448,"a":48,"z":32},{"t":"Solid:liquid ratio","x":488,"y":512,"a":-10,"z":33},{"t":"Solid:liquid ratio","x":1165,"y":522,"a":-9,"z":33}]
},
"encoding":{"x":{"field":"x","type":"quantitative","axis":null,"scale":{"domain":[0,1383],"nice":false,"zero":false}},"y":{"field":"y","type":"quantitative","axis":null,"scale":{"domain":[551,0],"nice":false,"zero":false}}},
"layer":[
{"data":{"name":"g"},"mark":{"type":"line","stroke":"#777777","strokeWidth":0.9,"strokeDash":[4,4]},"encoding":{"detail":{"field":"s"},"order":{"value":null}}},
{"data":{"name":"p"},"mark":{"type":"line","filled":true,"interpolate":"linear-closed","strokeWidth":0},"encoding":{"detail":{"field":"s"},"order":{"value":null},"fill":{"field":"v","type":"ordinal","legend":null,"scale":{"domain":[0,1,2,3,4,5,6,7,8,9,10,11,12,13,14],"range":["#0000bf","#0000ff","#0040ff","#0080ff","#00bfff","#00ffff","#40ffbf","#80ff80","#bfff40","#ffff00","#ffbf00","#ff8000","#ff4000","#ff0000","#bf0000"]}}}},
{"data":{"name":"p"},"transform":[{"filter":"datum.c>0"}],"mark":{"type":"line","stroke":"#111111","strokeWidth":1,"interpolate":"cardinal"},"encoding":{"detail":[{"field":"s"},{"field":"c"}],"order":{"value":null}}},
{"data":{"name":"ax"},"mark":{"type":"line","stroke":"#000000","strokeWidth":1.5},"encoding":{"detail":{"field":"s"},"order":{"value":null}}},
{"data":{"name":"leg"},"mark":{"type":"rect"},"encoding":{"x2":{"field":"x2"},"y2":{"field":"y2"},"fill":{"field":"v","type":"ordinal","legend":null}}},
{"data":{"name":"box"},"mark":{"type":"rect","fillOpacity":0,"stroke":"#222222"},"encoding":{"x2":{"field":"x2"},"y2":{"field":"y2"},"strokeWidth":{"field":"w","type":"quantitative","scale":null}}},
{"data":{"name":"t"},"mark":{"type":"text","font":"Liberation Serif","fontSize":30,"dy":2,"baseline":"middle","align":"center","color":"#111111"},"encoding":{"text":{"field":"t"}}},
{"data":{"name":"tb"},"mark":{"type":"text","font":"Liberation Serif","fontWeight":"bold","baseline":"middle","align":"center","color":"#000000"},"encoding":{"text":{"field":"t"},"angle":{"field":"a","type":"quantitative","scale":null},"size":{"field":"z","type":"quantitative","scale":null}}}
]}
